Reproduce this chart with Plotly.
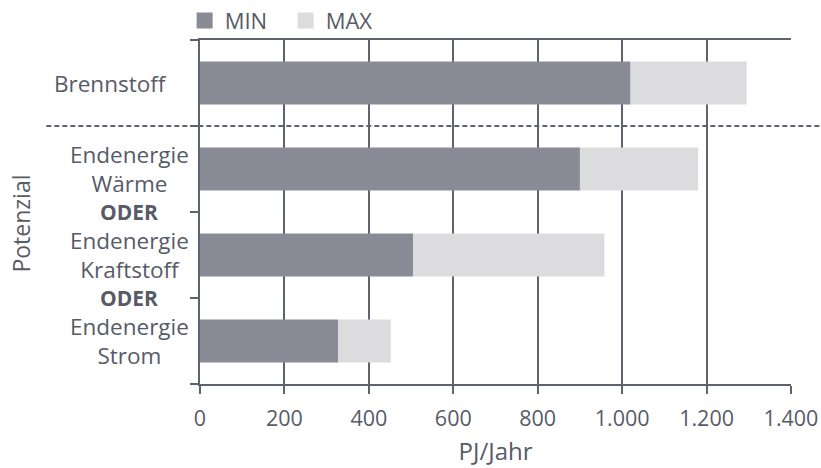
import plotly.graph_objects as go

# --- data ---
categories = ["Brennstoff", "Endenergie<br>Wärme", "Endenergie<br>Kraftstoff", "Endenergie<br>Strom"]
cat_pos = [0, 2, 4, 6]
min_values = [1020, 900, 505, 327]
max_values = [1295, 1180, 958, 452]
separator_labels = ["<b>ODER</b>", "<b>ODER</b>"]
separator_pos = [3, 5]
x_ticks = [0, 200, 400, 600, 800, 1000, 1200, 1400]
series_names = ["MIN", "MAX"]

# --- styles ---
C_MIN = "#898c96"
C_MAX = "#dcdcde"
C_LINE = "#5f6370"
C_TEXT = "#575b67"
FONT = "Open Sans"

fig = go.Figure()
fig.add_trace(go.Bar(
    y=cat_pos, x=min_values, orientation="h", width=1.0,
    marker=dict(color=C_MIN, line=dict(width=0)), showlegend=False, name=series_names[0]))
fig.add_trace(go.Bar(
    y=cat_pos, x=[mx - mn for mx, mn in zip(max_values, min_values)], base=min_values,
    orientation="h", width=1.0,
    marker=dict(color=C_MAX, line=dict(width=0)), showlegend=False, name=series_names[1]))

# legend-only traces
for nm, col in zip(series_names, [C_MIN, C_MAX]):
    fig.add_trace(go.Scatter(x=[None], y=[None], mode="markers", name=nm,
                             marker=dict(symbol="square", size=16, color=col)))

annotations = []
label_x = [-0.151, -0.120, -0.120, -0.120]
for txt, p, lx in zip(categories, cat_pos, label_x):
    annotations.append(dict(text=txt, x=lx, xref="paper", y=p, yref="y",
                            xanchor="center", yanchor="middle", showarrow=False, borderpad=0,
                            font=dict(family=FONT, size=22.5, color=C_TEXT)))
for txt, p in zip(separator_labels, separator_pos):
    annotations.append(dict(text=txt, x=-0.120, xref="paper", y=p, yref="y",
                            xanchor="center", yanchor="middle", showarrow=False, borderpad=0,
                            font=dict(family=FONT, size=21, color=C_TEXT)))
annotations.append(dict(text="Potenzial", x=-0.302, xref="paper", y=0.465, yref="paper",
                        textangle=-90, xanchor="center", yanchor="middle", showarrow=False,
                        borderpad=0,
                        font=dict(family=FONT, size=23, color=C_TEXT)))

fig.update_layout(
    width=821, height=468,
    margin=dict(l=200, r=30, t=40, b=84, autoexpand=False),
    paper_bgcolor="white", plot_bgcolor="white",
    barmode="overlay",
    separators=",.",
    font=dict(family=FONT, size=22, color=C_TEXT),
    showlegend=True,
    legend=dict(orientation="h", x=-0.026, y=1.056, xanchor="left", yanchor="middle",
                entrywidth=56, entrywidthmode="pixels",
                font=dict(family=FONT, size=22, color=C_TEXT),
                bgcolor="rgba(0,0,0,0)", itemclick=False),
    xaxis=dict(range=[0, 1400], tickvals=x_ticks, tickformat=",d",
               showgrid=True, gridcolor=C_LINE, gridwidth=2,
               zeroline=False, showline=True, linecolor=C_LINE, linewidth=2, mirror=True,
               ticks="outside", ticklen=8, tickwidth=2, tickcolor=C_LINE,
               ticklabelstandoff=6,
               tickfont=dict(family=FONT, size=21.5, color=C_TEXT),
               title=dict(text="PJ/Jahr", standoff=12,
                          font=dict(family=FONT, size=24, color=C_TEXT))),
    yaxis=dict(range=[7, -1], tickvals=[-1, 1, 3, 5, 7], showticklabels=False,
               ticks="outside", ticklen=8, tickwidth=2, tickcolor=C_LINE,
               showgrid=False, zeroline=False, showline=True, linecolor=C_LINE, linewidth=2),
    annotations=annotations,
    shapes=[dict(type="line", xref="paper", yref="y", x0=-0.26, x1=1.06, y0=1, y1=1,
                 line=dict(color=C_LINE, width=2, dash="5px,3px"), layer="above")],
)

# remove the browser's default 8px body margin so the figure fills the window exactly
fig.write_html("out.html", config={"displayModeBar": False},
               post_script="document.body.style.margin='0px';")
